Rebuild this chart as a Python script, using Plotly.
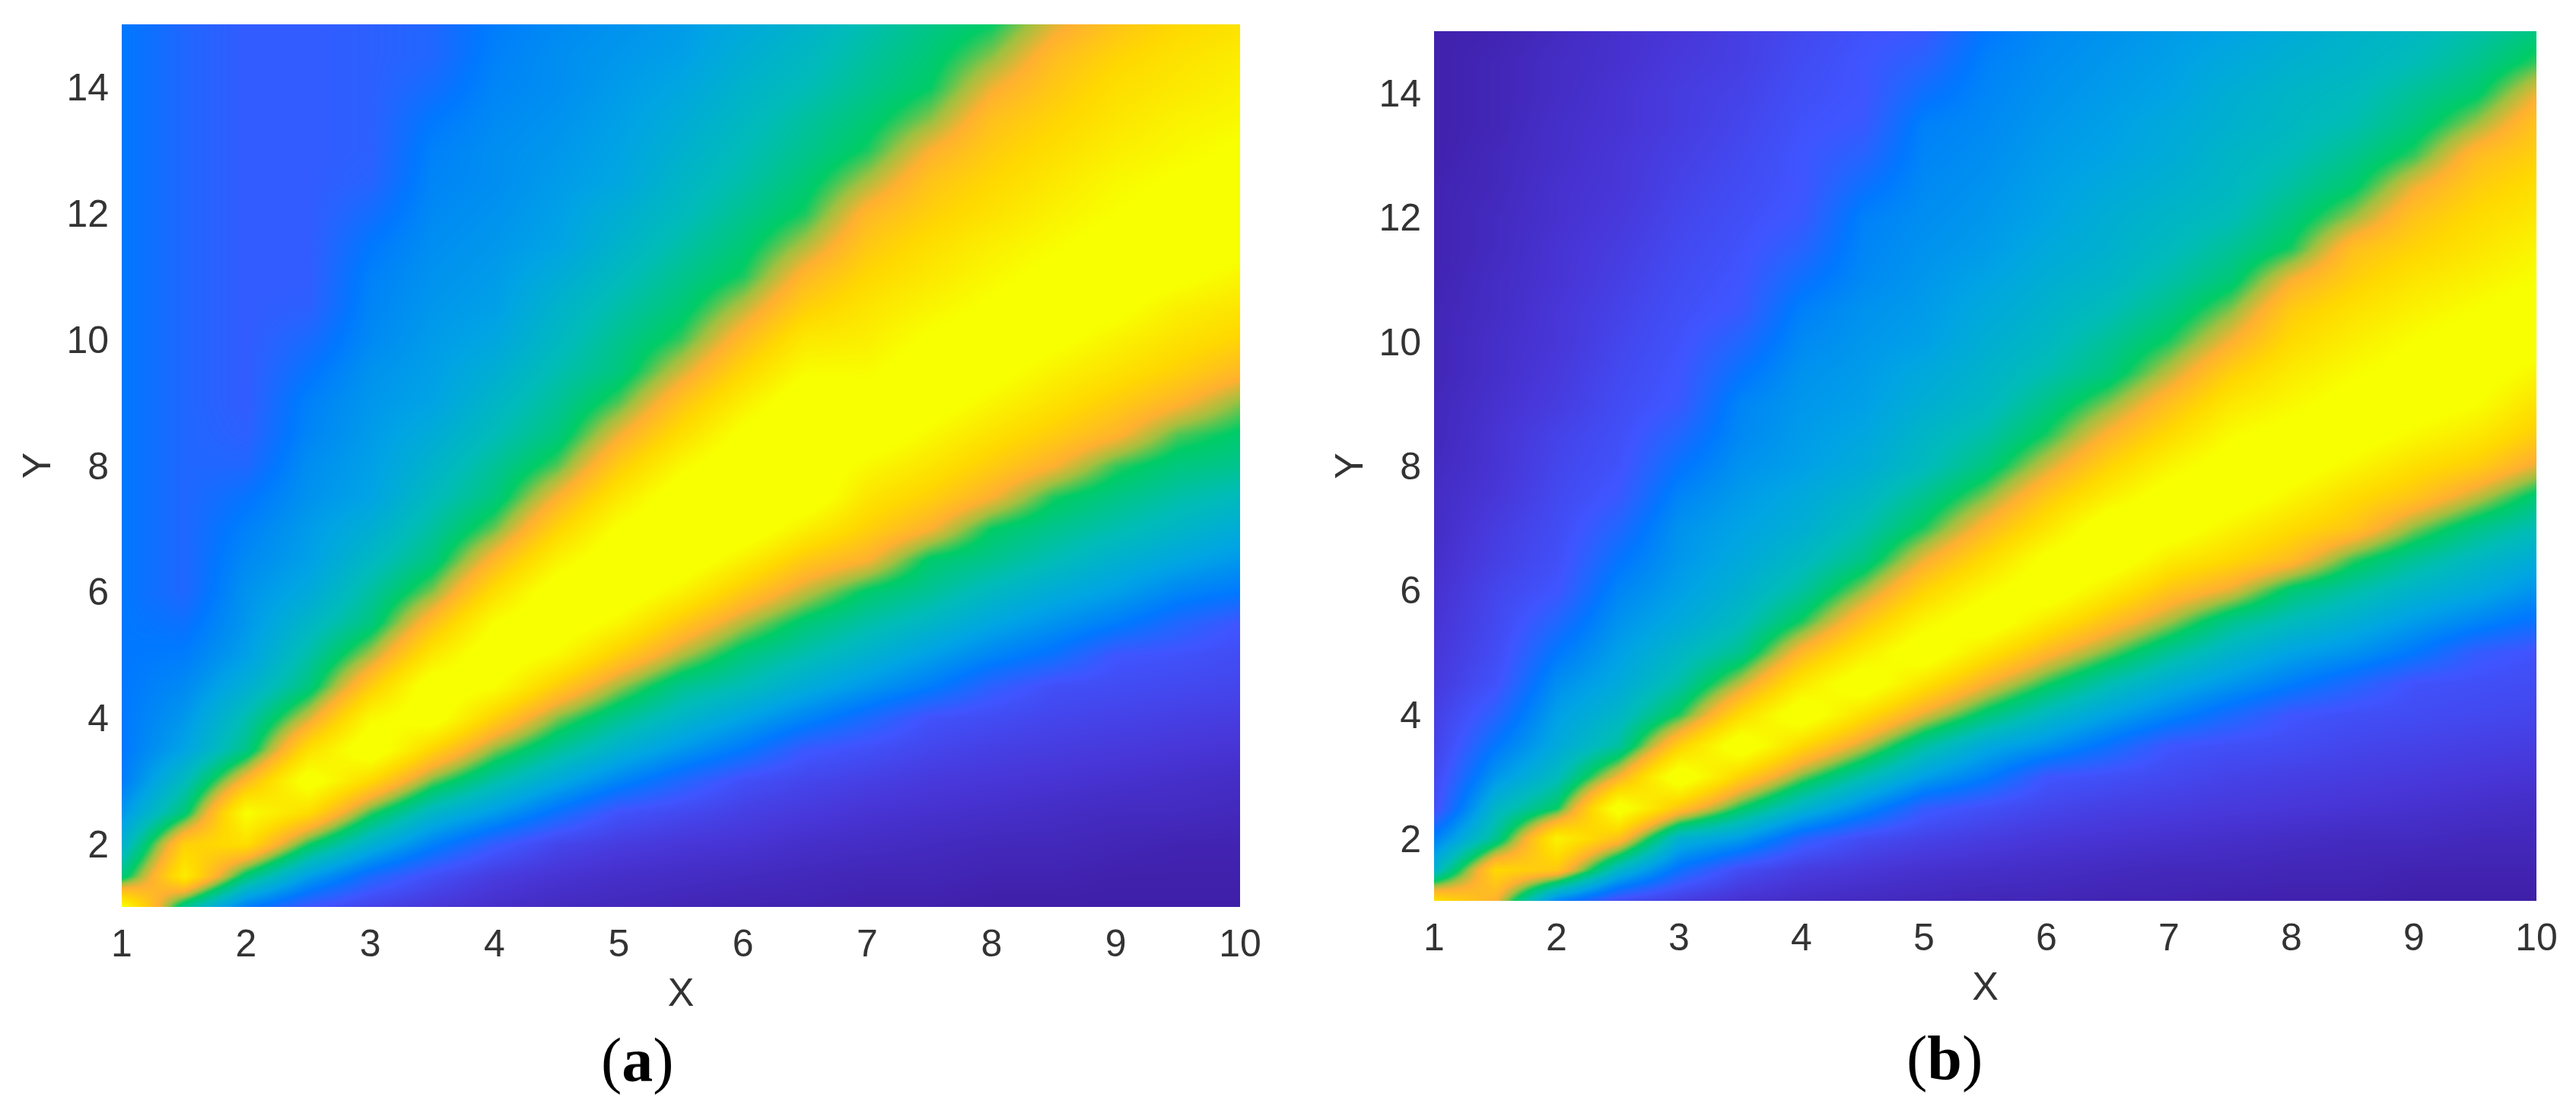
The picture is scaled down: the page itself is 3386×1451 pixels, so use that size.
import numpy as np
import plotly.graph_objects as go

x_vals = [1, 1.5, 2, 2.5, 3, 3.5, 4, 4.5, 5, 5.5, 6, 6.5, 7, 7.5, 8, 8.5, 9, 9.5, 10]
y_vals = [1, 1.5, 2, 2.5, 3, 3.5, 4, 4.5, 5, 5.5, 6, 6.5, 7, 7.5, 8, 8.5, 9, 9.5, 10,
          10.5, 11, 11.5, 12, 12.5, 13, 13.5, 14, 14.5, 15]
x_ticks = [1, 2, 3, 4, 5, 6, 7, 8, 9, 10]
y_ticks = [2, 4, 6, 8, 10, 12, 14]

# values, one list per x column, y going up
z_a_cols = [
    [95,57,45,37,31,30,30,30,30,30,30,30,30,30,30,30,30,30,30,30,30,30,30,30,30,30,30,30,30],
    [55,88,80,58,49,40,37,34,31,28,25,25,25,25,25,25,25,25,25,25,25,25,25,25,25,25,25,25,25],
    [31,58,84,94,74,56,51,44,39,37,36,34,32,29,25,23,22,22,22,22,22,22,22,22,22,22,22,22,22],
    [20,39,61,83,98,84,69,57,52,47,42,39,38,36,35,33,32,29,26,23,22,22,22,22,22,22,22,22,22],
    [14,26,45,62,82,100,92,79,67,57,53,48,44,40,39,38,37,36,34,33,32,30,27,24,23,23,23,23,23],
    [10,18,32,47,64,81,98,99,87,76,65,57,53,49,46,43,40,39,38,37,36,35,34,33,32,30,27,25,25],
    [7,12,22,38,52,65,80,94,100,94,84,74,64,57,54,50,47,44,41,39,38,37,36,35,35,34,33,32,31],
    [5,9,15,28,42,54,65,79,92,100,99,90,81,72,63,57,54,51,48,46,43,40,39,38,37,36,35,35,34],
    [4,7,12,19,33,45,55,66,79,91,100,100,95,87,79,71,63,57,55,52,49,46,44,41,40,39,38,37,36],
    [3,6,10,16,25,37,47,55,67,78,90,100,100,99,92,84,77,69,62,58,55,52,49,47,45,43,41,39,38],
    [2,5,9,13,18,30,40,50,57,67,78,89,100,100,100,96,89,82,75,68,61,58,55,52,50,48,46,44,42],
    [2,4,7,11,15,21,33,43,51,58,68,78,89,100,100,100,100,93,87,80,74,67,61,58,55,53,50,48,46],
    [1,3,6,9,13,18,26,37,45,52,59,72,80,86,92,99,97,93,89,86,82,78,74,67,61,58,55,53,51],
    [1,3,5,8,11,15,19,31,39,47,54,59,72,80,86,92,98,98,95,91,87,84,80,77,72,65,60,58,56],
    [0,2,4,7,10,13,17,23,33,41,48,55,60,72,79,85,91,97,99,95,92,89,85,82,79,76,71,65,60],
    [0,2,4,6,9,12,15,18,28,36,43,50,55,61,72,79,85,90,96,99,96,93,90,87,84,81,78,75,70],
    [0,1,3,5,8,11,14,17,20,31,39,45,51,56,62,73,79,85,90,96,99,97,94,92,89,86,84,81,77],
    [0,1,2,5,7,10,13,16,19,25,33,41,47,52,57,63,73,80,85,89,96,99,97,95,92,90,87,85,82],
    [0,1,2,4,6,9,12,15,17,20,30,37,43,49,55,59,65,74,81,86,91,97,100,97,95,92,90,88,85],
]

z_b_cols = [
    [85,46,32,18,16,14,13,11,10,9,8,7,6,6,5,4,4,3,3,3,2,2,2,2,1,1,1,1,1],
    [72,82,55,47,37,30,24,19,17,16,15,13,12,10,9,9,8,7,7,6,6,5,5,4,4,3,3,3,2],
    [32,78,90,60,49,42,39,35,30,25,20,18,17,16,15,14,12,11,10,10,9,9,8,8,7,7,6,6,5],
    [17,47,76,98,72,53,47,42,39,36,33,29,25,21,19,18,17,16,15,14,13,12,11,10,10,9,9,8,8],
    [12,28,45,77,100,80,61,52,47,42,39,37,36,33,29,25,21,20,19,18,17,16,15,14,13,12,12,11,10],
    [8,17,38,60,80,100,83,68,55,49,45,42,40,38,36,34,33,29,25,21,20,19,18,17,16,15,14,13,13],
    [6,12,24,46,64,82,100,87,74,61,53,48,44,42,39,38,37,36,34,32,28,24,21,20,20,19,18,17,16],
    [5,10,17,34,51,68,84,100,88,77,66,56,51,47,43,41,39,38,37,36,34,33,32,28,24,21,20,20,19],
    [4,8,14,22,39,53,70,85,100,91,81,71,61,55,49,47,44,42,39,38,37,36,35,34,33,32,28,24,21],
    [3,7,12,18,31,42,58,72,86,100,92,83,74,65,57,52,48,46,44,42,40,38,37,36,35,34,33,32,30],
    [3,6,10,15,20,36,48,61,74,87,100,96,86,78,69,61,56,51,48,46,44,42,40,39,38,37,36,35,34],
    [2,5,9,13,18,28,40,51,64,76,88,100,100,89,81,73,65,57,54,50,47,45,44,42,40,39,38,37,36],
    [2,4,8,12,16,20,33,43,54,66,77,88,99,98,91,83,76,68,61,56,52,49,47,45,43,42,40,39,38],
    [1,4,7,11,14,18,26,37,46,55,70,82,90,99,98,93,87,80,72,65,58,54,50,48,47,45,44,42,40],
    [1,3,6,10,13,17,20,31,40,49,58,75,83,91,98,97,92,88,83,79,72,61,57,53,50,48,47,45,43],
    [1,3,5,9,12,15,18,25,36,44,52,62,77,83,91,98,97,93,89,85,80,76,66,59,55,51,49,47,46],
    [0,2,5,8,11,14,17,19,30,38,46,54,65,77,84,92,98,97,94,90,86,81,77,71,62,57,54,50,48],
    [0,2,4,7,10,13,16,18,22,33,42,48,56,68,79,87,94,98,98,94,90,86,83,79,75,66,59,55,52],
    [0,2,4,6,9,12,15,17,19,28,36,43,50,58,70,79,85,91,98,98,94,91,87,84,80,77,71,62,57],
]

colorscale = [
    [0.00, "#3f1fa8"],
    [0.10, "#4836d8"],
    [0.20, "#3f55ff"],
    [0.30, "#0078ff"],
    [0.40, "#00a4e4"],
    [0.50, "#00bcb8"],
    [0.60, "#00cc66"],
    [0.66, "#a0c040"],
    [0.72, "#ffb030"],
    [0.82, "#ffd800"],
    [0.94, "#f8ff00"],
    [1.00, "#f8ff00"],
]

W, H = 3386, 1451
PAGE = 8  # the page body keeps an 8px margin around the plot
TICK = dict(family="Liberation Sans, Arial, sans-serif", size=50, color="#333333")
TITLE = dict(family="Liberation Sans, Arial, sans-serif", size=52, color="#333333")
CAPTION = dict(family="Liberation Serif, Times New Roman, serif", size=82, color="black")

fig = go.Figure()
fig.add_trace(go.Heatmap(x=x_vals, y=y_vals, z=np.array(z_a_cols).T, zmin=0, zmax=100,
                         zsmooth="best", colorscale=colorscale, showscale=False,
                         xaxis="x", yaxis="y"))
fig.add_trace(go.Heatmap(x=x_vals, y=y_vals, z=np.array(z_b_cols).T, zmin=0, zmax=100,
                         zsmooth="best", colorscale=colorscale, showscale=False,
                         xaxis="x2", yaxis="y2"))


def xax(left, right, standoff):
    return dict(domain=[(left - PAGE) / W, (right - PAGE) / W], range=[1, 10], tickvals=x_ticks,
                automargin=False, ticks="outside", ticklen=4, tickcolor="rgba(0,0,0,0)", tickfont=TICK,
                showgrid=False, zeroline=False, showline=False,
                title=dict(text="X", font=TITLE, standoff=standoff))


def yax(top, bottom, standoff):
    return dict(domain=[1 - (bottom - PAGE) / H, 1 - (top - PAGE) / H], range=[1, 15], tickvals=y_ticks,
                automargin=False, ticks="outside", ticklen=6, tickcolor="rgba(0,0,0,0)", tickfont=TICK,
                showgrid=False, zeroline=False, showline=False,
                title=dict(text="Y", font=TITLE, standoff=standoff))


fig.update_layout(
    width=W, height=H,
    margin=dict(l=0, r=0, t=0, b=0),
    paper_bgcolor="white", plot_bgcolor="white",
    xaxis=dict(anchor="y", **xax(160, 1630, 18)),
    yaxis=dict(anchor="x", **yax(32, 1192, 4)),
    xaxis2=dict(anchor="y2", **xax(1885, 3334, 18)),
    yaxis2=dict(anchor="x2", **yax(41, 1184, 4)),
    annotations=[
        dict(text="(<b>a</b>)", x=(838 - PAGE) / W, y=1 - (1393 - PAGE) / H, xref="paper", yref="paper",
             xanchor="center", yanchor="middle", showarrow=False, font=CAPTION),
        dict(text="(<b>b</b>)", x=(2556 - PAGE) / W, y=1 - (1390 - PAGE) / H, xref="paper", yref="paper",
             xanchor="center", yanchor="middle", showarrow=False, font=CAPTION),
    ],
)

fig.write_html("out.html")
